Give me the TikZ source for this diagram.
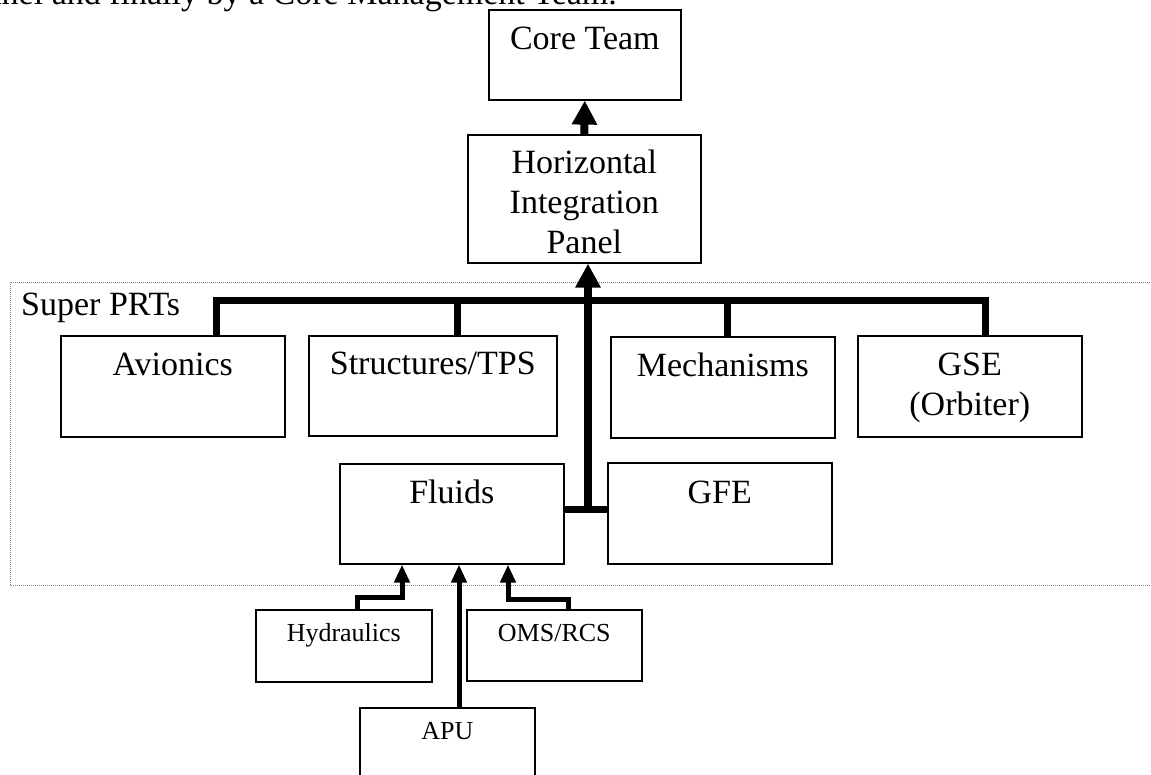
\documentclass[tikz,border=0pt]{standalone}
\usepackage{fontspec}
\setmainfont{Liberation Serif}
\usetikzlibrary{arrows.meta}
\newcommand{\bigtxt}{\fontsize{34}{40}\selectfont}
\newcommand{\smalltxt}{\fontsize{26}{31}\selectfont}
\tikzset{
  box/.style={draw, line width=1.6pt, inner sep=0pt, anchor=north west},
  btxt/.style={font=\bigtxt, align=center, anchor=north, inner sep=0pt},
  stxt/.style={font=\smalltxt, align=center, anchor=north, inner sep=0pt},
  bus/.style={line width=7pt, line join=miter},
  upline/.style={line width=8pt, -{Triangle[width=24pt,length=24pt]}},
  feed/.style={line width=5pt, line join=miter, -{Triangle[width=15pt,length=18pt]}},
  frame/.style={draw=gray, densely dotted, line width=1pt}
}

\begin{document}
\begin{tikzpicture}[x=1pt, y=-1pt]
  \useasboundingbox (0,0) rectangle (1151,774);
  \clip (0,0) rectangle (1151,774);

  % line of text above the chart
  \node[font=\bigtxt, anchor=base east, inner sep=0pt] (intro) at (617,4) {Panel and finally by a Core Management Team.};

  % frame of the Super PRTs
  \draw[frame] (10,282) rectangle (1165,585);
  \node[font=\bigtxt, anchor=base west, inner sep=0pt] (super) at (21,315) {Super PRTs};

  % boxes
  \node[box, minimum width=192pt, minimum height=90pt] (core) at (488,9) {};
  \node[box, minimum width=233pt, minimum height=128pt] (hip) at (467,134) {};
  \node[box, minimum width=224pt, minimum height=101pt] (avi) at (60,335) {};
  \node[box, minimum width=248pt, minimum height=100pt] (str) at (308,335) {};
  \node[box, minimum width=224pt, minimum height=101pt] (mec) at (610,336) {};
  \node[box, minimum width=224pt, minimum height=101pt] (gse) at (857,335) {};
  \node[box, minimum width=224pt, minimum height=100pt] (flu) at (339,463) {};
  \node[box, minimum width=224pt, minimum height=101pt] (gfe) at (607,462) {};
  \node[box, minimum width=176pt, minimum height=72pt] (hyd) at (255,609) {};
  \node[box, minimum width=175pt, minimum height=71pt] (oms) at (466,609) {};
  \node[box, minimum width=175pt, minimum height=90pt] (apu) at (359,707) {};

  % texts in the boxes
  \node[btxt] (coret) at ([yshift=-12pt]core.north) {\strut Core Team};
  \node[btxt] (hipt) at ([yshift=-11pt]hip.north) {\strut Horizontal\\Integration\\Panel};
  \node[btxt] (avit) at ([yshift=-12pt]avi.north) {\strut Avionics};
  \node[btxt] (strt) at ([yshift=-11pt]str.north) {\strut Structures/TPS};
  \node[btxt] (mect) at ([yshift=-12pt]mec.north) {\strut Mechanisms};
  \node[btxt] (gset) at ([yshift=-12pt]gse.north) {\strut GSE\\(Orbiter)};
  \node[btxt] (flut) at ([yshift=-12pt]flu.north) {\strut Fluids};
  \node[btxt] (gfet) at ([yshift=-13pt]gfe.north) {\strut GFE};
  \node[stxt] (hydt) at ([yshift=-10.3pt]hyd.north) {\strut Hydraulics};
  \node[stxt] (omst) at ([yshift=-10.3pt]oms.north) {\strut OMS/RCS};
  \node[stxt] (aput) at ([yshift=-10.3pt]apu.north) {\strut APU};

  % bus of the Super PRTs
  \coordinate (jn) at (588,509);
  \coordinate (busL) at (216,300);
  \coordinate (busR) at (985,300);
  \coordinate (strB) at (457,300);
  \coordinate (mecB) at (727,300);
  \draw[bus] (flu.east |- jn) -- (gfe.west |- jn);
  \draw[bus] (avi.north -| busL) -- (busL) -- (busR) -- (gse.north -| busR);
  \draw[bus] (strB) -- (str.north -| strB);
  \draw[bus] (mecB) -- (mec.north -| mecB);
  \draw[upline] (jn) -- (hip.south -| jn);
  \draw[upline] (hip.north) -- (core.south);

  % feeds into Fluids
  \coordinate (hydK) at (357,597);
  \coordinate (hydF) at (402,597);
  \coordinate (apuF) at (459,650);
  \coordinate (omsK) at (568,599);
  \coordinate (omsF) at (508,599);
  \draw[feed] (hyd.north -| hydK) -- (hydK) -- (hydF) -- (flu.south -| hydF);
  \draw[feed] (apu.north -| apuF) -- (flu.south -| apuF);
  \draw[feed] (oms.north -| omsK) -- (omsK) -- (omsF) -- (flu.south -| omsF);
\end{tikzpicture}
\end{document}
